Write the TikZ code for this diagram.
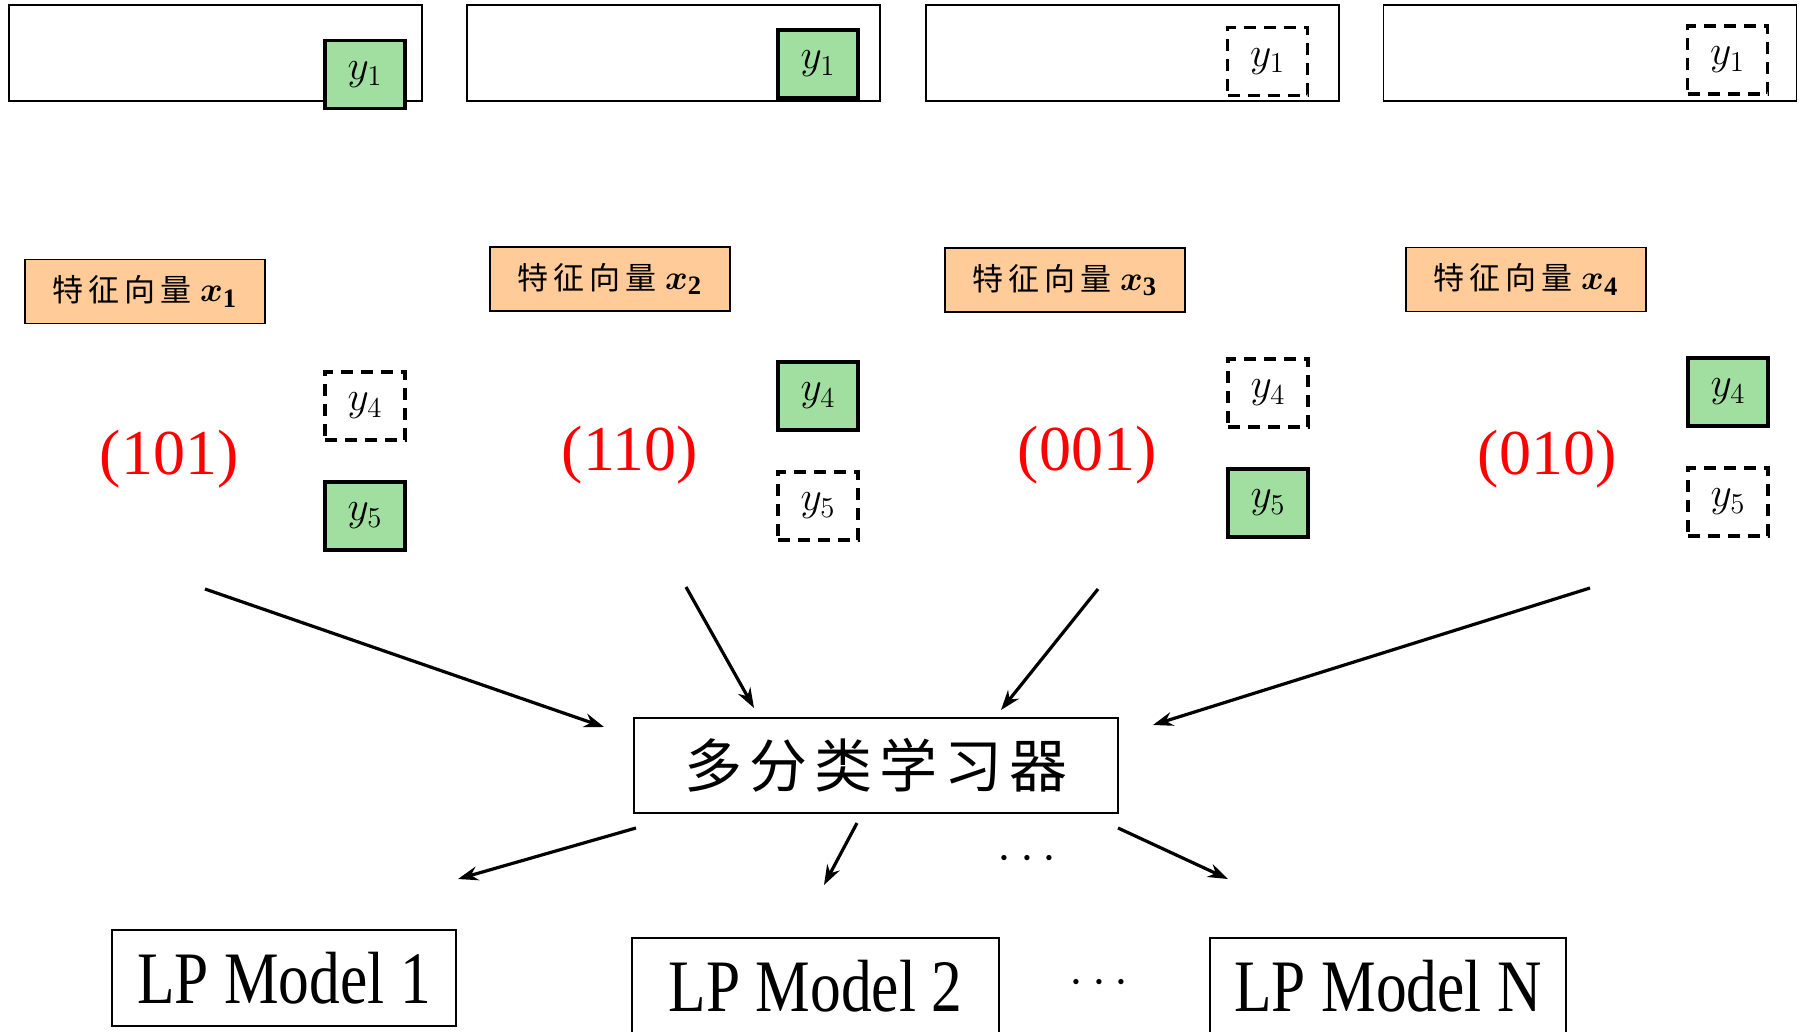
\documentclass[tikz,border=0pt]{standalone}
\usepackage{fontspec}
\usepackage{bm}
\setmainfont{Liberation Serif}
\newfontfamily\cjk{Noto Sans CJK SC}
\usetikzlibrary{arrows.meta}
\definecolor{gfill}{HTML}{A0DFA0}
\definecolor{ofill}{HTML}{FFCC99}
\tikzset{
  topbox/.style={draw, line width=0.8pt, minimum width=206.5pt, minimum height=48pt, inner sep=0pt},
  ybox/.style={draw, line width=1.6pt, minimum width=40pt, minimum height=34pt, inner sep=0pt, font=\fontsize{21}{21}\selectfont},
  yon/.style={ybox, fill=gfill},
  yoff/.style={ybox, dash pattern=on 6pt off 4pt},
  featbox/.style={draw, line width=0.8pt, fill=ofill, minimum width=120pt, minimum height=32pt, inner sep=0pt, font=\fontsize{15.5}{16}\selectfont},
  code/.style={text=red, font=\fontsize{32}{32}\selectfont, inner sep=0pt},
  lpbox/.style={draw, line width=0.8pt, minimum height=48pt, inner sep=0pt, font=\fontsize{37}{37}\selectfont},
  arr/.style={line width=1.6pt, -{Stealth[length=10pt,width=7pt]}}
}
\newcommand{\feat}[1]{{\cjk\addfontfeature{LetterSpace=16}特征向量}\;{\fontsize{19}{19}\selectfont$\bm{x}_{\mathbf{#1}}$}}
\begin{document}
\begin{tikzpicture}[x=0.5pt,y=-0.5pt]
\useasboundingbox (0,0) rectangle (1804,1032);
% top row
\node[topbox] (t1) at (215.5,53) {};
\node[topbox] (t2) at (673.5,53) {};
\node[topbox] (t3) at (1132.5,53) {};
\node[topbox] (t4) at (1590,53) {};
\node[yon] (a1) at (365,74.5) {$y_1$};
\node[yon] (b1) at (818,64) {$y_1$};
\node[yoff] (c1) at (1267.5,61.5) {$y_1$};
\node[yoff] (d1) at (1727.5,60) {$y_1$};
% feature boxes
\node[featbox] (f1) at (145,291.5) {\feat{1}};
\node[featbox] (f2) at (610,279) {\feat{2}};
\node[featbox] (f3) at (1065,280) {\feat{3}};
\node[featbox] (f4) at (1526,279.5) {\feat{4}};
% codes
\node[code] (k1) at (169,459) {(101)};
\node[code] (k2) at (630,455) {(110)};
\node[code] (k3) at (1087,455) {(001)};
\node[code] (k4) at (1547,459) {(010)};
% y4 / y5
\node[yoff] (a4) at (365,406) {$y_4$};
\node[yon]  (a5) at (365,516) {$y_5$};
\node[yon]  (b4) at (818,396) {$y_4$};
\node[yoff] (b5) at (818,506) {$y_5$};
\node[yoff] (c4) at (1268,393) {$y_4$};
\node[yon]  (c5) at (1268,503) {$y_5$};
\node[yon]  (d4) at (1728,392) {$y_4$};
\node[yoff] (d5) at (1728,502) {$y_5$};
% learner
\node[draw, line width=0.8pt, minimum width=242pt, minimum height=47.5pt, inner sep=0pt,
      font=\fontsize{29}{29}\selectfont] (L) at (876,765.5) {\cjk\addfontfeature{LetterSpace=12}多分类学习器};
% LP models
\node[lpbox, minimum width=172pt] (m1) at (284,978) {\scalebox{0.83}[1]{LP Model 1}};
\node[lpbox, minimum width=183.5pt] (m2) at (815.5,986) {\scalebox{0.83}[1]{LP Model 2}};
\node[lpbox, minimum width=178pt] (mN) at (1388,986) {\scalebox{0.83}[1]{LP Model N}};
\node[font=\fontsize{30}{30}\selectfont] (dd1) at (1027,859) {$\cdots$};
\node[font=\fontsize{30}{30}\selectfont] (dd2) at (1099,983) {$\cdots$};
% arrow coordinates
\coordinate (s1) at (205,589); \coordinate (e1) at (604,727);
\coordinate (s2) at (686,587); \coordinate (e2) at (754,708);
\coordinate (s3) at (1098,589); \coordinate (e3) at (1001,710);
\coordinate (s4) at (1590,588); \coordinate (e4) at (1153,725);
\coordinate (o1) at (636,828); \coordinate (p1) at (458,879);
\coordinate (o2) at (857,823); \coordinate (p2) at (824,885);
\coordinate (o3) at (1118,828); \coordinate (p3) at (1228,879);
\draw[arr] (s1) -- (e1);
\draw[arr] (s2) -- (e2);
\draw[arr] (s3) -- (e3);
\draw[arr] (s4) -- (e4);
\draw[arr] (o1) -- (p1);
\draw[arr] (o2) -- (p2);
\draw[arr] (o3) -- (p3);
\end{tikzpicture}
\end{document}
